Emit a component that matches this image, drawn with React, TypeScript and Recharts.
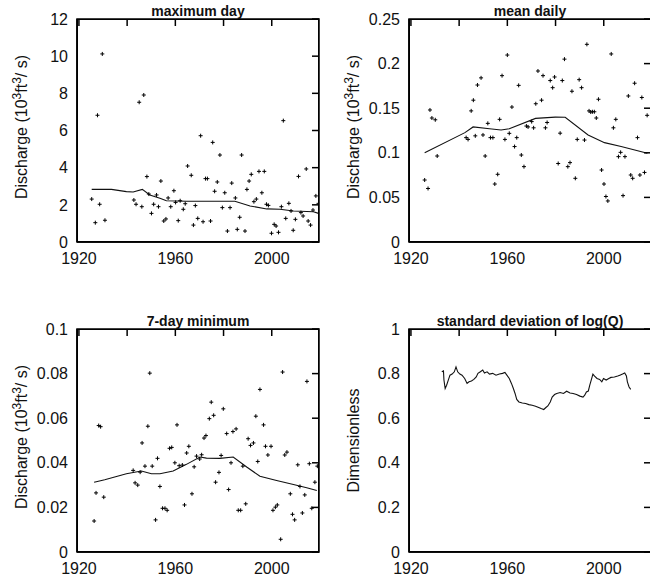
import { ComposedChart, Scatter, Line, XAxis, YAxis, ReferenceArea } from 'recharts';

const FONT = '"Liberation Sans", Arial, sans-serif';
const INK = '#111';
const FRAME = 'black';

const X_DOMAIN = [1919.2, 2019.6];
const X_TICKS = [1920, 1940, 1960, 1980, 2000];
const X_LABEL_TICKS = [1920, 1960, 2000];

const MAX_DAY_TICKS = [0, 2, 4, 6, 8, 10, 12];
const MEAN_DAILY_TICKS = [0, 0.05, 0.1, 0.15, 0.2, 0.25];
const MIN7_TICKS = [0, 0.02, 0.04, 0.06, 0.08, 0.1];
const SD_TICKS = [0, 0.2, 0.4, 0.6, 0.8, 1];

// [year, 10^3 ft3/s]
const MAX_DAY_POINTS = [
  [1925.3, 2.31], [1926.8, 1.04], [1927.7, 6.82], [1928.6, 2.03], [1929.7, 10.12], [1930.8, 1.17],
  [1942.8, 2.26], [1943.7, 2.03], [1945.0, 7.52], [1946.1, 1.9], [1946.9, 7.91], [1948.2, 3.52],
  [1949.0, 2.58], [1950.1, 1.54], [1951.0, 2.03], [1952.2, 2.53], [1953.0, 1.9], [1954.0, 3.28],
  [1955.2, 1.13], [1956.1, 1.24], [1957.0, 2.37], [1958.1, 1.9], [1959.4, 2.76], [1960.1, 2.13],
  [1961.2, 1.15], [1962.0, 2.22], [1963.3, 1.76], [1964.1, 2.06], [1965.1, 4.09], [1966.6, 3.59],
  [1967.5, 0.91], [1968.3, 1.96], [1969.3, 1.27], [1970.5, 5.72], [1971.5, 1.09], [1972.5, 3.41],
  [1973.3, 3.41], [1974.6, 1.13], [1975.5, 5.36], [1976.3, 2.73], [1977.4, 3.23], [1978.5, 4.68],
  [1979.5, 1.85], [1980.5, 2.65], [1981.6, 0.59], [1982.7, 1.85], [1983.4, 3.17], [1984.9, 2.37],
  [1985.7, 0.68], [1986.7, 1.33], [1987.5, 4.68], [1988.9, 0.59], [1989.7, 2.83], [1990.6, 3.28],
  [1991.5, 3.64], [1992.6, 2.17], [1993.6, 2.31], [1994.7, 3.8], [1995.9, 2.65], [1996.9, 3.8],
  [1997.8, 2.03], [1998.6, 1.97], [1999.9, 0.47], [2001.0, 0.95], [2001.8, 0.86], [2002.8, 0.52],
  [2004.0, 1.9], [2004.8, 6.53], [2005.8, 1.27], [2007.1, 2.08], [2008.0, 1.67], [2008.9, 0.63],
  [2009.8, 1.22], [2011.1, 3.53], [2012.1, 1.58], [2013.0, 1.4], [2014.3, 3.93], [2015.1, 1.13],
  [2016.1, 0.91], [2017.1, 1.72], [2018.3, 2.48], [2019.4, 2.08],
];
const MAX_DAY_SMOOTH = [
  [1925.3, 2.83], [1933.5, 2.83], [1939.7, 2.71], [1942.5, 2.69], [1946.3, 2.83], [1949.4, 2.53],
  [1953.6, 2.35], [1956.3, 2.22], [1964.7, 2.19], [1984.7, 2.19], [1991.0, 1.94], [1997.9, 1.78],
  [2003.4, 1.76], [2009.0, 1.67], [2017.3, 1.63], [2019.4, 1.54],
];

const MEAN_DAILY_POINTS = [
  [1925.7, 0.0695], [1927.1, 0.06], [1927.9, 0.148], [1928.7, 0.139], [1930.1, 0.137], [1930.9, 0.0964],
  [1942.9, 0.117], [1943.7, 0.115], [1945.0, 0.147], [1945.9, 0.159], [1946.7, 0.119], [1947.6, 0.176],
  [1949.1, 0.184], [1949.9, 0.12], [1950.8, 0.0964], [1951.9, 0.133], [1953.0, 0.117], [1954.0, 0.117],
  [1954.8, 0.065], [1956.0, 0.0759], [1956.8, 0.1375], [1957.8, 0.1865], [1959.0, 0.115], [1960.0, 0.2096],
  [1960.8, 0.1218], [1961.9, 0.1513], [1963.0, 0.107], [1963.9, 0.117], [1964.7, 0.1756], [1965.8, 0.0975],
  [1966.9, 0.0845], [1967.9, 0.13], [1968.6, 0.129], [1970.1, 0.135], [1970.9, 0.128], [1971.8, 0.155],
  [1972.7, 0.1917], [1974.2, 0.159], [1974.8, 0.1865], [1975.8, 0.128], [1976.5, 0.134], [1977.8, 0.181],
  [1978.8, 0.173], [1979.6, 0.185], [1981.1, 0.088], [1981.9, 0.122], [1982.8, 0.181], [1983.7, 0.205],
  [1985.1, 0.0845], [1986.0, 0.089], [1986.8, 0.169], [1988.2, 0.0714], [1989.0, 0.115], [1989.8, 0.182],
  [1990.8, 0.173], [1992.0, 0.1143], [1993.0, 0.2216], [1993.9, 0.147], [1994.6, 0.1457], [1995.3, 0.146],
  [1996.1, 0.146], [1996.9, 0.139], [1997.8, 0.16], [1999.1, 0.0807], [2000.1, 0.065], [2000.9, 0.051],
  [2001.7, 0.046], [2003.1, 0.2108], [2004.0, 0.128], [2005.0, 0.1375], [2006.1, 0.0957], [2007.0, 0.1005],
  [2008.0, 0.052], [2008.8, 0.0957], [2010.2, 0.1637], [2011.2, 0.0751], [2012.0, 0.0714], [2012.8, 0.178],
  [2014.0, 0.117], [2015.0, 0.0751], [2015.8, 0.162], [2016.9, 0.078], [2018.0, 0.142],
];
const MEAN_DAILY_SMOOTH = [
  [1925.7, 0.1], [1942.4, 0.1226], [1945.8, 0.129], [1952.6, 0.127], [1957.4, 0.1256], [1960.8, 0.127],
  [1971.7, 0.1386], [1979.9, 0.14], [1984.0, 0.1398], [1993.5, 0.12], [2000.3, 0.1114], [2007.2, 0.107],
  [2018.1, 0.0994],
];

const MIN7_POINTS = [
  [1926.3, 0.0139], [1927.1, 0.0265], [1928.2, 0.0567], [1929.0, 0.0562], [1930.3, 0.0246],
  [1942.5, 0.0366], [1943.3, 0.031], [1944.4, 0.03], [1945.4, 0.0358], [1946.2, 0.0489], [1947.4, 0.0385],
  [1948.6, 0.0564], [1949.4, 0.0802], [1950.4, 0.0385], [1951.8, 0.0144], [1952.6, 0.042], [1953.6, 0.0294],
  [1954.7, 0.0196], [1955.7, 0.0196], [1956.6, 0.0187], [1957.6, 0.0465], [1958.5, 0.0469], [1959.8, 0.04],
  [1960.7, 0.057], [1961.6, 0.0387], [1962.9, 0.039], [1963.8, 0.0211], [1964.7, 0.0444], [1965.6, 0.0474],
  [1966.9, 0.0261], [1967.8, 0.0382], [1968.8, 0.043], [1970.1, 0.0417], [1970.9, 0.0436], [1971.9, 0.0511],
  [1972.7, 0.0522], [1974.1, 0.0598], [1974.9, 0.0672], [1975.9, 0.0613], [1976.7, 0.0313], [1978.1, 0.0357],
  [1979.0, 0.0433], [1979.9, 0.0642], [1981.3, 0.0531], [1982.1, 0.028], [1983.1, 0.04], [1983.9, 0.054],
  [1985.2, 0.0552], [1986.1, 0.0187], [1987.1, 0.0187], [1988.0, 0.0385], [1989.2, 0.0216], [1990.2, 0.0508],
  [1991.2, 0.0478], [1992.4, 0.0489], [1993.4, 0.0609], [1994.2, 0.0406], [1995.1, 0.0729], [1996.6, 0.057],
  [1997.4, 0.0474], [1998.4, 0.0435], [1999.7, 0.0474], [2000.5, 0.0187], [2001.5, 0.0201], [2002.3, 0.0211],
  [2003.7, 0.0057], [2004.5, 0.0807], [2005.4, 0.0435], [2006.3, 0.0448], [2007.7, 0.0261], [2008.6, 0.0169],
  [2009.5, 0.0144], [2010.8, 0.0391], [2011.7, 0.0294], [2012.7, 0.0175], [2013.7, 0.0256], [2014.6, 0.0765],
  [2015.6, 0.0396], [2016.6, 0.0196], [2017.9, 0.0313], [2018.9, 0.0385],
];
const MIN7_SMOOTH = [
  [1926.3, 0.0313], [1930.7, 0.0324], [1939.7, 0.0351], [1945.9, 0.0363], [1950.1, 0.0351], [1953.6, 0.0351],
  [1959.1, 0.0363], [1964.6, 0.0393], [1970.2, 0.0426], [1972.9, 0.0421], [1978.5, 0.042], [1984.0, 0.0426],
  [1989.6, 0.0381], [1995.1, 0.034], [2002.0, 0.0321], [2009.0, 0.0303], [2014.5, 0.0288], [2018.7, 0.0276],
];

const SD_LINE = [
  [1932.8, 0.808], [1933.5, 0.812], [1933.7, 0.771], [1934.2, 0.733], [1934.8, 0.748], [1935.5, 0.771],
  [1936.2, 0.793], [1937.1, 0.798], [1938.0, 0.808], [1938.7, 0.83], [1939.4, 0.808], [1940.3, 0.798],
  [1941.2, 0.793], [1942.3, 0.778], [1943.3, 0.756], [1944.1, 0.763], [1945.1, 0.767], [1946.1, 0.774],
  [1947.1, 0.785], [1947.8, 0.801], [1948.8, 0.808], [1949.8, 0.816], [1950.5, 0.803], [1951.6, 0.808],
  [1952.6, 0.798], [1953.9, 0.801], [1955.3, 0.793], [1956.7, 0.798], [1958.0, 0.801], [1959.0, 0.805],
  [1959.8, 0.793], [1960.8, 0.778], [1961.7, 0.756], [1962.5, 0.733], [1963.2, 0.711], [1963.9, 0.684],
  [1964.8, 0.673], [1966.2, 0.668], [1967.6, 0.666], [1968.9, 0.661], [1970.3, 0.658], [1971.7, 0.654],
  [1973.0, 0.648], [1974.0, 0.643], [1975.1, 0.639], [1976.0, 0.648], [1976.8, 0.655], [1977.8, 0.673],
  [1978.6, 0.695], [1979.6, 0.706], [1980.5, 0.711], [1981.9, 0.715], [1983.3, 0.711], [1984.6, 0.721],
  [1986.0, 0.713], [1987.3, 0.711], [1988.7, 0.706], [1990.1, 0.699], [1991.4, 0.695], [1992.1, 0.703],
  [1992.8, 0.718], [1993.6, 0.722], [1994.2, 0.748], [1994.8, 0.771], [1995.5, 0.798], [1996.2, 0.789],
  [1997.2, 0.778], [1998.3, 0.774], [1999.2, 0.763], [1999.9, 0.778], [2001.0, 0.771], [2002.1, 0.778],
  [2003.0, 0.783], [2004.4, 0.785], [2005.8, 0.789], [2006.7, 0.793], [2007.8, 0.798], [2008.7, 0.803],
  [2009.4, 0.789], [2009.8, 0.763], [2010.5, 0.74], [2011.2, 0.729],
];

// plot box inside each 330x275 chart
const BOX = { left: 77, top: 19, right: 319, bottom: 242 };
const TICK_LEN = 7;

const toRows = (arr: number[][]) => arr.map(([year, v]) => ({ year, v }));

function Plus(props: any) {
  const { cx, cy } = props;
  if (cx == null || cy == null) return null;
  return <path d={`M${cx - 2},${cy}h4M${cx},${cy - 2}v4`} stroke="#000" strokeWidth={1} fill="none" />;
}

// bottom axis: labels for 1920/1960/2000, inward tick marks on the top edge (R style)
function YearTick(props: any) {
  const { x, y, payload } = props;
  const showLabel = X_LABEL_TICKS.includes(payload.value);
  return (
    <g>
      <path d={`M${x},${BOX.top}v${TICK_LEN}`} stroke={FRAME} strokeWidth={1.5} fill="none" />
      {showLabel && (
        <text x={x} y={y} dy="0.71em" textAnchor="middle" fontSize={16} fontFamily={FONT} fill={INK}>
          {payload.value}
        </text>
      )}
    </g>
  );
}

// left axis: labels, inward tick marks on the right edge
function ValueTick(props: any) {
  const { x, y, payload } = props;
  return (
    <g>
      <path d={`M${BOX.right - TICK_LEN},${y}h${TICK_LEN}`} stroke={FRAME} strokeWidth={1.5} fill="none" />
      <text x={x} y={y} dy="0.355em" textAnchor="end" fontSize={16} fontFamily={FONT} fill={INK}>
        {String(payload.value)}
      </text>
    </g>
  );
}

function DischargeLabel() {
  const cy = 127;
  return (
    <text x={27} y={cy} transform={`rotate(-90 27 ${cy})`} textAnchor="middle"
      fontSize={16} fontFamily={FONT} fill={INK}>
      Discharge (10<tspan dy={-6} fontSize={12}>3</tspan>
      <tspan dy={6}>ft</tspan>
      <tspan dy={-6} fontSize={12}>3</tspan>
      <tspan dy={6}>/ s)</tspan>
    </text>
  );
}

function PlainLabel({ text }: { text: string }) {
  const cy = 130.5;
  return (
    <text x={27} y={cy} transform={`rotate(-90 27 ${cy})`} textAnchor="middle"
      fontSize={16} fontFamily={FONT} fill={INK}>
      {text}
    </text>
  );
}

function Panel({ left, top, title, points, smooth, yDomain, yTicks, yLabel }: any) {
  return (
    <div style={{ position: 'absolute', left, top, width: 330, height: 275 }}>
      <ComposedChart width={330} height={275}
        margin={{ top: BOX.top, right: 330 - BOX.right, bottom: 0, left: 0 }}>
        <XAxis dataKey="year" type="number" domain={X_DOMAIN} allowDataOverflow ticks={X_TICKS}
          interval={0} tickLine={false} tickSize={0} tickMargin={11} height={275 - BOX.bottom}
          axisLine={{ stroke: FRAME, strokeWidth: 1.5 }} tick={<YearTick />}
          label={() => (
            <text x={(BOX.left + BOX.right) / 2} y={BOX.top - 3} textAnchor="middle" fontSize={14}
              fontWeight="bold" fontFamily={FONT} fill={INK}>{title}</text>
          )} />
        <YAxis type="number" domain={yDomain} ticks={yTicks} interval={0} width={BOX.left}
          tickLine={false} tickSize={0} tickMargin={9} axisLine={{ stroke: FRAME, strokeWidth: 1.5 }}
          tick={<ValueTick />} label={yLabel} />
        <ReferenceArea x1={X_DOMAIN[0]} x2={X_DOMAIN[1]} y1={yDomain[0]} y2={yDomain[1]}
          fill="white" fillOpacity={0.01} stroke={FRAME} strokeWidth={1.5} ifOverflow="visible" />
        {points && (
          <Scatter data={toRows(points)} dataKey="v" shape={<Plus />} isAnimationActive={false} />
        )}
        <Line data={toRows(smooth)} dataKey="v" type="linear" stroke={INK} strokeWidth={1.1}
          dot={false} activeDot={false} isAnimationActive={false} />
      </ComposedChart>
      {/* plain frame around the plot area, in case the SVG outline is lost */}
      <div style={{
        position: 'absolute', left: BOX.left, top: BOX.top,
        width: BOX.right - BOX.left, height: BOX.bottom - BOX.top,
        border: '1px solid #000', boxSizing: 'border-box', pointerEvents: 'none',
      }} />
    </div>
  );
}

export default function App() {
  return (
    <div style={{ position: 'absolute', left: 0, top: 0, width: 650, height: 581, overflow: 'hidden', background: '#fff' }}>
      <Panel left={0} top={0} title="maximum day" points={MAX_DAY_POINTS} smooth={MAX_DAY_SMOOTH}
        yDomain={[0, 12]} yTicks={MAX_DAY_TICKS} yLabel={() => <DischargeLabel />} />
      <Panel left={332} top={0} title="mean daily" points={MEAN_DAILY_POINTS} smooth={MEAN_DAILY_SMOOTH}
        yDomain={[0, 0.25]} yTicks={MEAN_DAILY_TICKS} yLabel={() => <DischargeLabel />} />
      <Panel left={0} top={310} title="7-day minimum" points={MIN7_POINTS} smooth={MIN7_SMOOTH}
        yDomain={[0, 0.1]} yTicks={MIN7_TICKS} yLabel={() => <DischargeLabel />} />
      <Panel left={332} top={310} title="standard deviation of log(Q)" smooth={SD_LINE}
        yDomain={[0, 1]} yTicks={SD_TICKS} yLabel={() => <PlainLabel text="Dimensionless" />} />
    </div>
  );
}
